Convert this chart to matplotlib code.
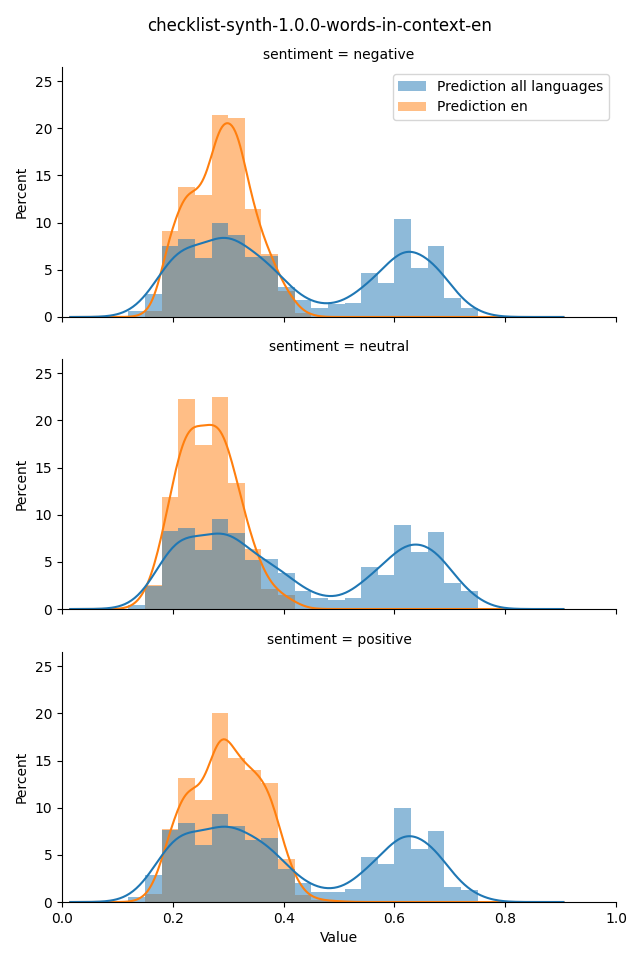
import numpy as np
import matplotlib
matplotlib.use("Agg")
import matplotlib.pyplot as plt
from matplotlib.patches import Patch

# histogram bins (common to both series), percent per bin
bin_edges = [0.12, 0.15, 0.18, 0.21, 0.24, 0.27, 0.30, 0.33, 0.36, 0.39, 0.42,
             0.45, 0.48, 0.51, 0.54, 0.57, 0.60, 0.63, 0.66, 0.69, 0.72, 0.75]

facets = ["negative", "neutral", "positive"]

all_negative = [0.64, 2.42, 7.54, 8.29, 6.30, 10.0, 8.65, 6.40, 6.48, 3.17, 1.78,
                0.96, 1.35, 1.46, 4.70, 3.63, 10.4, 5.23, 7.54, 1.99, 0.93]
en_negative = [0.0, 0.64, 9.15, 13.77, 12.88, 21.4, 21.1, 11.5, 6.69, 2.80, 0.43,
               0, 0, 0, 0, 0, 0, 0, 0, 0, 0]

all_neutral = [0.39, 2.40, 8.29, 8.60, 6.26, 9.57, 8.08, 5.20, 5.30, 3.80, 1.92,
               1.17, 0.96, 1.17, 4.45, 3.60, 8.86, 6.09, 8.19, 2.78, 1.92]
en_neutral = [0.0, 2.55, 11.85, 22.3, 17.4, 22.5, 13.4, 6.37, 2.10, 1.46, 0.0,
              0, 0, 0, 0, 0, 0, 0, 0, 0, 0]

all_positive = [0.56, 2.87, 7.66, 8.40, 6.06, 9.36, 8.09, 6.60, 6.80, 3.50, 2.06,
                1.10, 1.10, 1.42, 4.72, 4.08, 10.0, 5.67, 7.55, 1.60, 1.31]
en_positive = [0.0, 0.90, 7.73, 13.1, 10.8, 20.0, 15.3, 14.0, 12.66, 4.54, 0.74,
               0.20, 0.10, 0, 0, 0, 0, 0, 0, 0, 0]

all_series = [all_negative, all_neutral, all_positive]
en_series = [en_negative, en_neutral, en_positive]

# kde bandwidths (all languages, en) per facet
kde_bw_all = [0.033, 0.033, 0.033]
kde_bw_en = [0.019, 0.024, 0.021]

BLUE = '#1f77b4'
ORANGE = '#ff7f0e'


def kde_curve(edges, heights, bw, grid):
    # weighted gaussian kde of the binned values, scaled to percent per bin
    edges = np.asarray(edges)
    h = np.asarray(heights, dtype=float)
    centers = (edges[:-1] + edges[1:]) / 2
    width = edges[1] - edges[0]
    w = h / h.sum()
    dens = np.zeros_like(grid)
    for c, wi in zip(centers, w):
        dens += wi * np.exp(-0.5 * ((grid - c) / bw) ** 2) / (bw * np.sqrt(2 * np.pi))
    return dens * h.sum() * width


fig = plt.figure(figsize=(6.4, 9.6), dpi=100)
left, width = 0.0969, 0.8656
bottoms = [0.6698, 0.3656, 0.0604]
height = 0.2604

grid = np.linspace(0.015, 0.905, 300)
lefts = bin_edges[:-1]
bar_w = bin_edges[1] - bin_edges[0]

axes = []
for i, name in enumerate(facets):
    ax = fig.add_axes([left, bottoms[i], width, height])
    axes.append(ax)
    # en first, all languages drawn on top
    ax.bar(lefts, en_series[i], width=bar_w, align='edge', color=ORANGE,
           alpha=0.5, linewidth=0)
    ax.bar(lefts, all_series[i], width=bar_w, align='edge', color=BLUE,
           alpha=0.5, linewidth=0)
    ax.plot(grid, kde_curve(bin_edges, en_series[i], kde_bw_en[i], grid), color=ORANGE, lw=1.5)
    ax.plot(grid, kde_curve(bin_edges, all_series[i], kde_bw_all[i], grid), color=BLUE, lw=1.5)

    ax.set_xlim(0, 1)
    ax.set_ylim(0, 26.5)
    ax.set_yticks([0, 5, 10, 15, 20, 25])
    ax.set_xticks([0.0, 0.2, 0.4, 0.6, 0.8, 1.0])
    ax.spines['top'].set_visible(False)
    ax.spines['right'].set_visible(False)
    ax.set_title(f'sentiment = {name}', fontsize=10)
    ax.set_ylabel('Percent')
    if i < 2:
        ax.tick_params(labelbottom=False)
    else:
        ax.set_xlabel('Value')

handles = [Patch(facecolor=BLUE, alpha=0.5, label='Prediction all languages'),
           Patch(facecolor=ORANGE, alpha=0.5, label='Prediction en')]
axes[0].legend(handles=handles, loc='upper right')

fig.suptitle('checklist-synth-1.0.0-words-in-context-en', fontsize=12, y=0.982)

fig.savefig('out.png', dpi=100)
